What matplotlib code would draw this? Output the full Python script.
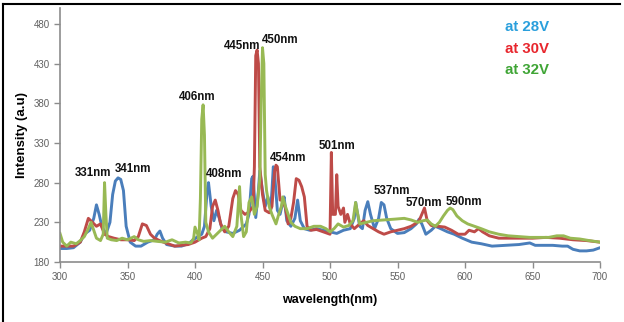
import matplotlib
matplotlib.use("Agg")
import matplotlib.pyplot as plt
from matplotlib.lines import Line2D

plt.rcParams['font.family'] = ['Liberation Sans', 'DejaVu Sans']

# 28V (blue)
wl_28 = [300, 305, 310, 315, 318, 322, 325, 327, 329, 331, 334, 337, 339, 341, 343, 345, 347, 349,
         352, 356, 360, 365, 370, 372, 374, 376, 379, 385, 390, 395, 398, 402, 405, 407, 409, 410,
         412, 414, 416, 418, 420, 423, 428, 433, 438, 440, 442, 443, 445, 447, 448, 450, 452, 454,
         456, 457, 458, 459, 461, 463, 465, 466, 468, 471, 474, 476, 478, 481, 485, 490, 495, 500,
         505, 510, 515, 518, 519, 520, 522, 524, 526, 528, 530, 533, 536, 538, 540, 542, 545, 550,
         555, 560, 564, 566, 568, 571, 575, 578, 582, 587, 592, 598, 605, 612, 620, 630, 640, 648,
         652, 658, 665, 672, 676, 680, 685, 690, 695, 700]
int_28 = [197, 197, 198, 205, 215, 220, 235, 252, 240, 225, 215, 230, 265, 282, 286, 284, 270, 225,
          205, 200, 200, 205, 208, 215, 219, 210, 202, 200, 200, 203, 207, 212, 215, 225, 270, 280,
          250, 232, 245, 235, 222, 218, 216, 220, 228, 240, 285, 288, 236, 270, 295, 270, 250, 262,
          245, 270, 300, 290, 245, 240, 255, 262, 232, 225, 235, 258, 232, 222, 220, 222, 220, 218,
          216, 220, 222, 235, 255, 245, 225, 222, 245, 256, 240, 222, 235, 255, 252, 235, 222, 216,
          217, 222, 228, 234, 228, 215, 220, 225, 222, 218, 215, 210, 205, 203, 200, 201, 202, 204,
          201, 201, 201, 200, 200, 196, 194, 194, 195, 198]

# 30V (red)
wl_30 = [300, 305, 310, 315, 318, 321, 324, 327, 330, 333, 336, 340, 345, 350, 355, 358, 361, 364,
         367, 370, 375, 380, 385, 390, 395, 400, 405, 408, 411, 413, 415, 417, 419, 422, 425, 428,
         430, 432, 434, 437, 440, 443, 444, 445, 446, 447, 448, 450, 452, 455, 457, 459, 460, 461,
         463, 465, 467, 469, 471, 473, 475, 477, 479, 481, 483, 486, 490, 495, 500, 501, 502, 504,
         505, 506, 508, 510, 511, 513, 515, 518, 522, 525, 528, 532, 536, 540, 545, 550, 555, 560,
         563, 566, 568, 570, 572, 575, 580, 585, 590, 595, 600, 603, 607, 610, 613, 618, 625, 640,
         650, 660, 670, 680, 690, 700]
int_30 = [200, 200, 200, 205, 218, 235, 230, 225, 228, 215, 212, 210, 208, 208, 207, 212, 228, 226,
          215, 210, 206, 203, 200, 201, 202, 205, 210, 212, 222, 250, 258, 245, 228, 218, 225, 260,
          270, 265, 245, 240, 243, 250, 300, 440, 447, 430, 300, 265, 245, 242, 250, 295, 302, 300,
          258, 258, 248, 228, 235, 255, 285, 283, 275, 262, 225, 220, 221, 218, 215, 318, 240, 240,
          290, 250, 240, 248, 230, 240, 228, 222, 228, 232, 226, 222, 218, 215, 218, 220, 222, 225,
          228, 232, 240, 248, 232, 226, 225, 224, 220, 215, 215, 220, 218, 222, 218, 213, 210, 210,
          210, 211, 210, 208, 207, 205]

# 32V (green)
wl_32 = [300, 302, 305, 308, 312, 315, 318, 321, 323, 325, 327, 330, 332, 333, 334, 335, 338, 342,
         346, 350, 355, 358, 362, 367, 372, 378, 383, 388, 393, 397, 399, 400, 402, 403, 404, 405,
         406, 407, 408, 410, 413, 416, 419, 422, 425, 428, 431, 433, 434, 436, 438, 440, 442, 444,
         446, 448, 449, 450, 451, 452, 453, 455, 457, 460, 462, 464, 465, 467, 469, 471, 474, 478,
         483, 488, 493, 497, 500, 503, 506, 510, 514, 517, 519, 520, 522, 527, 532, 540, 548, 555,
         560, 565, 569, 572, 575, 578, 581, 584, 587, 589, 591, 594, 598, 602, 607, 612, 618, 625,
         632, 640, 648, 655, 662, 668, 673, 678, 685, 692, 700]
int_32 = [216, 205, 200, 205, 203, 207, 212, 222, 230, 220, 210, 207, 215, 280, 240, 210, 208, 207,
          210, 208, 212, 208, 206, 207, 206, 205, 208, 204, 205, 204, 210, 224, 215, 208, 260, 360,
          378, 340, 230, 218, 210, 215, 220, 225, 218, 212, 225, 275, 240, 212, 218, 255, 262, 240,
          250, 285, 380, 450, 430, 290, 270, 250, 240, 228, 240, 250, 262, 250, 240, 230, 225, 222,
          222, 225, 225, 222, 218, 222, 228, 224, 226, 232, 255, 245, 228, 230, 232, 233, 234, 235,
          233, 230, 232, 233, 228, 225, 230, 238, 245, 248, 246, 238, 232, 228, 225, 222, 218, 215,
          213, 212, 211, 211, 211, 213, 213, 210, 209, 207, 205]

peak_labels = ['331nm', '341nm', '406nm', '408nm', '445nm', '450nm', '454nm',
               '501nm', '537nm', '570nm', '590nm']
peak_x = [324.5, 354, 401.5, 421.5, 435, 463, 469, 505, 546, 569.5, 599.5]
peak_y = [292, 297, 388, 291, 452, 460, 311, 326, 269.5, 254, 255.5]

legend_labels = ['at 28V', 'at 30V', 'at 32V']
legend_colors = ['#2a9fdc', '#e8262d', '#3fa535']

fig = plt.figure(figsize=(6.24, 3.22), dpi=100)
ax = fig.add_axes([60/624, 1-262/322, 540/624, 254/322])

ax.plot(wl_28, int_28, color='#4a7ebb', lw=2.1, solid_joinstyle='round')
ax.plot(wl_30, int_30, color='#be4b48', lw=2.1, solid_joinstyle='round')
ax.plot(wl_32, int_32, color='#98b954', lw=2.1, solid_joinstyle='round')

for t, x, y in zip(peak_labels, peak_x, peak_y):
    ax.text(x, y, t, ha='center', va='center', fontsize=8.3, fontweight='bold', color='#111111')

for i, (t, c) in enumerate(zip(legend_labels, legend_colors)):
    ax.text(0.865, 0.925 - i*0.085, t, transform=ax.transAxes, ha='center', va='center',
            fontsize=10.8, fontweight='bold', color=c)

ax.set_xlim(300, 700)
ax.set_ylim(180, 500)
ax.set_xticks(range(300, 701, 50))
ax.set_yticks(range(180, 481, 50))
for s in ['top', 'right']:
    ax.spines[s].set_visible(False)
for s in ['left', 'bottom']:
    ax.spines[s].set_color('#8c8c8c')
    ax.spines[s].set_linewidth(1.2)
ax.tick_params(colors='#8c8c8c', length=4, width=1, labelsize=7, labelcolor='#606060')
ax.set_xlabel('wavelength(nm)', fontsize=9, fontweight='bold', labelpad=8)
ax.set_ylabel('Intensity (a.u)', fontsize=9.5, fontweight='bold', labelpad=4)

# outer frame (left and top edges)
fig.add_artist(Line2D([3/624, 3/624], [0, 1-4/322], color='black', lw=1.5))
fig.add_artist(Line2D([3/624, 620/624], [1-4/322, 1-4/322], color='black', lw=1.5))

fig.savefig('out.png', dpi=100)
